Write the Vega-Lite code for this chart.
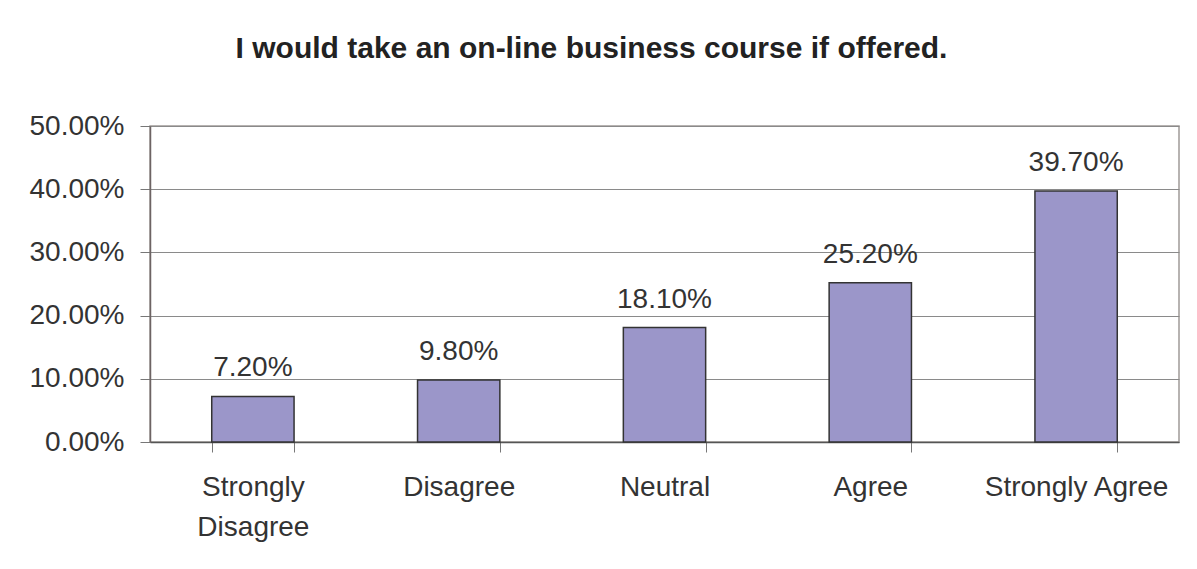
{
  "$schema": "https://vega.github.io/schema/vega-lite/v6.json",
  "width": 1029,
  "height": 316,
  "autosize": {"type": "none"},
  "padding": {"left": 150, "top": 126, "right": 18, "bottom": 127},
  "background": "white",
  "title": {
    "text": "I would take an on-line business course if offered.",
    "font": "Liberation Sans",
    "fontSize": 30,
    "fontWeight": "bold",
    "color": "#222222",
    "anchor": "middle",
    "frame": "group",
    "dx": -73,
    "offset": 48
  },
  "data": {
    "values": [
      {"response": "Strongly Disagree", "pct": 0.072},
      {"response": "Disagree", "pct": 0.098},
      {"response": "Neutral", "pct": 0.181},
      {"response": "Agree", "pct": 0.252},
      {"response": "Strongly Agree", "pct": 0.397}
    ]
  },
  "config": {
    "view": {"stroke": "#a09a98", "strokeWidth": 1.5},
    "axis": {
      "labelFont": "Liberation Sans",
      "labelFontSize": 28,
      "labelColor": "#333333",
      "titleFont": "Liberation Sans"
    }
  },
  "encoding": {
    "x": {
      "field": "response",
      "type": "nominal",
      "sort": null,
      "scale": {"paddingInner": 0.6, "paddingOuter": 0.3},
      "axis": {
        "title": null,
        "labelAngle": 0,
        "labelLimit": 0,
        "tickBand": "extent",
        "tickSize": 10,
        "tickColor": "#777777",
        "domainColor": "#555555",
        "domainWidth": 1.5,
        "labelPadding": 21,
        "labelLineHeight": 40,
        "labelBaseline": "top",
        "labelExpr": "datum.value == 'Strongly Disagree' ? ['Strongly', 'Disagree'] : datum.value"
      }
    },
    "y": {
      "field": "pct",
      "type": "quantitative",
      "scale": {"domain": [0, 0.5], "nice": false},
      "axis": {
        "title": null,
        "values": [0, 0.1, 0.2, 0.3, 0.4, 0.5],
        "format": ".2%",
        "tickSize": 10,
        "tickColor": "#777777",
        "labelPadding": 16,
        "domainColor": "#6d6363",
        "domainWidth": 1.5,
        "gridColor": "#8a8a8a",
        "gridWidth": 1
      }
    }
  },
  "layer": [
    {
      "mark": {"type": "bar", "fill": "#9b96c9", "stroke": "#333333", "strokeWidth": 1.5}
    },
    {
      "mark": {"type": "text", "baseline": "alphabetic", "dy": -20, "font": "Liberation Sans", "fontSize": 28, "color": "#333333"},
      "encoding": {
        "text": {"field": "pct", "type": "quantitative", "format": ".2%"}
      }
    }
  ]
}
